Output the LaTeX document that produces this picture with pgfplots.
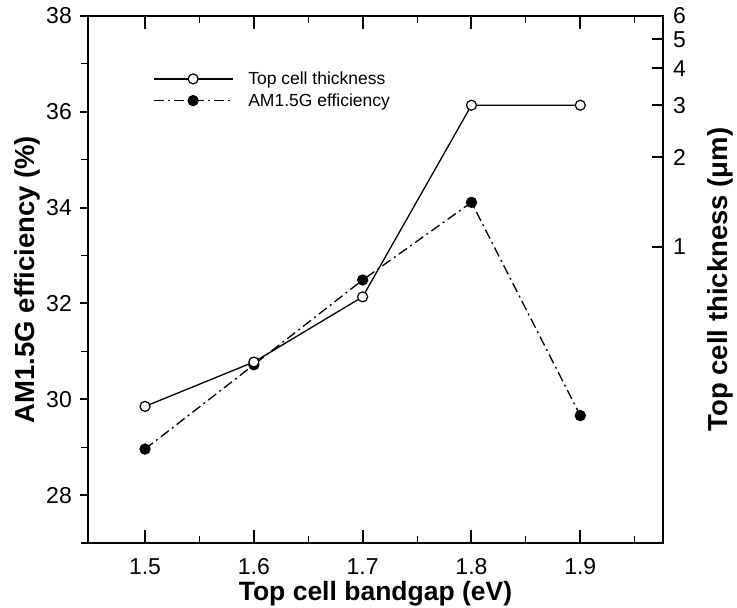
\documentclass[border=0pt]{standalone}
\usepackage{pgfplots}
\pgfplotsset{compat=1.18}
\usepackage{fontspec}
\setmainfont{Liberation Sans}
\begin{document}
\begin{tikzpicture}
\path[use as bounding box] (-88pt,-65pt) rectangle (649pt,543pt);
\pgfplotsset{
  common/.style={
    at={(0pt,0pt)}, anchor=south west,
    scale only axis, width=575pt, height=527pt,
    xmin=1.4476, xmax=1.976,
    axis line style={line width=2.3pt},
    every tick/.style={black, line width=2pt},
    every minor tick/.style={black, line width=1.1pt},
    /pgf/number format/assume math mode=true,
    tick label style={font=\fontsize{23}{26}\selectfont},
    label style={font=\bfseries\fontsize{27.5}{32}\selectfont},
  },
}
% x axis (box)
\begin{axis}[common,
  ymin=27, ymax=38,
  xtick={1.5,1.6,1.7,1.8,1.9},
  minor xtick={1.55,1.65,1.75,1.85,1.95},
  xticklabels={1.5,1.6,1.7,1.8,1.9},
  xtick align=inside, xtick pos=both,
  major tick length=13pt, minor tick length=7pt,
  ytick=\empty,
  xticklabel style={inner sep=0pt, yshift=-15pt},
  xlabel={Top cell bandgap (eV)},
  xlabel style={at={(axis description cs:0.5,-0.0965)}, anchor=center, inner sep=0pt, font=\bfseries\fontsize{26.5}{30}\selectfont},
]
\end{axis}
% left y axis
\begin{axis}[common,
  ymin=27, ymax=38,
  axis y line*=left, hide x axis,
  ytick={28,30,32,34,36,38},
  minor ytick={27,29,31,33,35,37},
  yticklabels={28,30,32,34,36,38},
  ytick align=outside,
  major tick length=8pt, minor tick length=7pt,
  yticklabel style={inner sep=0pt, xshift=-8pt},
  ylabel={AM1.5G efficiency (\%)},
  ylabel style={at={(axis description cs:-0.106,0.5)}, anchor=center},
]
\addplot[black, line width=1.3pt, dash pattern=on 10pt off 4pt on 2pt off 4pt,
  mark=*, mark size=5pt, mark options={solid, fill=black}]
  coordinates {(1.5,28.96) (1.6,30.72) (1.7,32.49) (1.8,34.11) (1.9,29.66)};
\end{axis}
% right log axis
\begin{axis}[common,
  ymode=log, ymin=0.1, ymax=6,
  axis y line*=right, hide x axis,
  ytick={1,2,3,4,5,6},
  yticklabels={1,2,3,4,5,6},
  ytick align=inside, yticklabel pos=right,
  major tick length=11pt,
  yticklabel style={inner sep=0pt, anchor=west, xshift=10pt},
  ylabel={Top cell thickness (μm)},
  ylabel style={at={(axis description cs:1.1,0.5)}, anchor=center},
  legend style={draw=none, fill=none, inner sep=0pt, outer sep=0pt,
    at={(axis description cs:0.113,0.86)}, anchor=west,
    row sep=7.5pt, column sep=15pt,
    nodes={inner sep=0pt},
    font=\fontsize{17.5}{20}\selectfont},
  legend cell align=left,
  legend image code/.code={\draw[mark repeat=2,mark phase=2,#1] plot coordinates {(0pt,0pt) (39.5pt,0pt) (79pt,0pt)};},
]
\addplot[black, line width=1.3pt, mark=*, mark size=5pt, mark options={solid, fill=white, line width=1.2pt}]
  coordinates {(1.5,0.289) (1.6,0.408) (1.7,0.677) (1.8,3.0) (1.9,3.0)};
\addlegendentry{Top cell thickness}
\addlegendimage{black, line width=1.3pt, dash pattern=on 10pt off 4pt on 2pt off 4pt,
  mark=*, mark size=5pt, mark options={solid, fill=black}}
\addlegendentry{AM1.5G efficiency}
\end{axis}
\end{tikzpicture}
\end{document}
